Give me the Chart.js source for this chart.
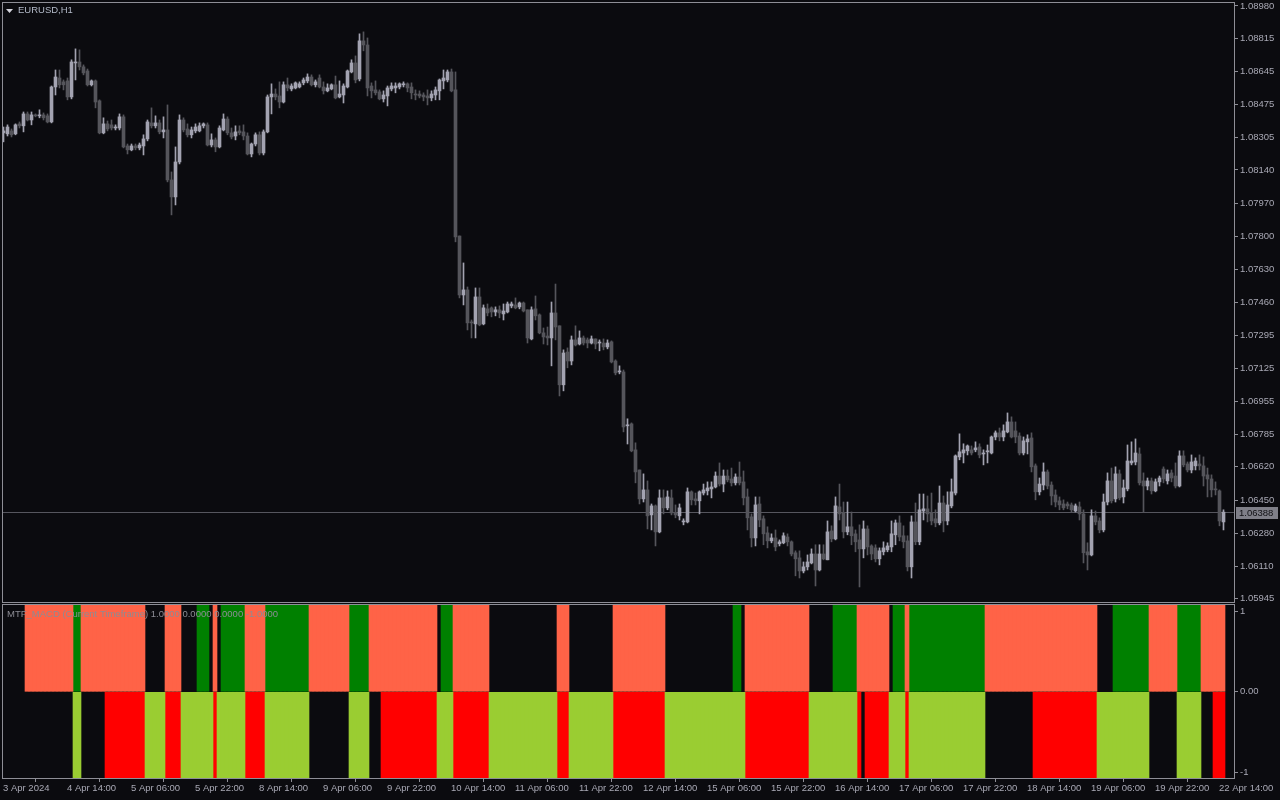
<!DOCTYPE html>
<html>
<head>
<meta charset="utf-8">
<title>EURUSD,H1</title>
<script src="https://cdn.jsdelivr.net/npm/chart.js@4/dist/chart.umd.min.js"></script>
<style>
  html, body { margin: 0; padding: 0; background: #0b0b0f; }
  #wrap { position: relative; width: 1280px; height: 800px; overflow: hidden; background: #0b0b0f; }
  #main { position: absolute; left: 0; top: 0; }
  #sub { position: absolute; left: 0; top: 603px; }
</style>
</head>
<body>
<div id="wrap">
  <canvas id="main" width="1280" height="603"></canvas>
  <canvas id="sub" width="1280" height="197"></canvas>
</div>
<script>
// EURUSD H1 candles, 3 Apr 22:00 -> 22 Apr 15:00 (one value per bar, 10 per row)
const open = [
  1.08330,1.08325,1.08340,1.08325,1.08376,1.08366,1.08427,1.08396,1.08422,1.08417,
  1.08422,1.08417,1.08386,1.08565,1.08611,1.08591,1.08596,1.08514,1.08688,1.08693,
  1.08668,1.08647,1.08576,1.08596,1.08494,1.08330,1.08376,1.08371,1.08355,1.08355,
  1.08412,1.08263,1.08243,1.08263,1.08253,1.08263,1.08299,1.08381,1.08366,1.08381,
  1.08335,1.08345,1.08089,1.08002,1.08181,1.08396,1.08350,1.08320,1.08340,1.08340,
  1.08366,1.08371,1.08268,1.08294,1.08258,1.08345,1.08401,1.08330,1.08314,1.08340,
  1.08335,1.08314,1.08222,1.08273,1.08320,1.08227,1.08335,1.08514,1.08529,1.08519,
  1.08488,1.08576,1.08555,1.08560,1.08565,1.08586,1.08596,1.08616,1.08576,1.08611,
  1.08565,1.08545,1.08555,1.08576,1.08514,1.08524,1.08565,1.08642,1.08688,1.08606,
  1.08801,1.08780,1.08570,1.08550,1.08540,1.08504,1.08519,1.08555,1.08560,1.08565,
  1.08576,1.08581,1.08565,1.08529,1.08529,1.08524,1.08519,1.08509,1.08524,1.08545,
  1.08596,1.08601,1.08642,1.08550,1.07802,1.07500,1.07526,1.07362,1.07352,1.07490,
  1.07352,1.07429,1.07434,1.07413,1.07424,1.07403,1.07413,1.07444,1.07449,1.07439,
  1.07459,1.07424,1.07275,1.07429,1.07398,1.07306,1.07290,1.07280,1.07408,1.07342,
  1.07040,1.07208,1.07162,1.07270,1.07249,1.07280,1.07270,1.07254,1.07275,1.07254,
  1.07254,1.07234,1.07260,1.07162,1.07106,1.07106,1.06830,1.06840,1.06707,1.06604,
  1.06456,1.06502,1.06374,1.06420,1.06287,1.06461,1.06410,1.06461,1.06384,1.06369,
  1.06338,1.06338,1.06492,1.06456,1.06446,1.06486,1.06497,1.06507,1.06517,1.06573,
  1.06532,1.06573,1.06558,1.06538,1.06568,1.06543,1.06466,1.06364,1.06256,1.06430,
  1.06354,1.06282,1.06241,1.06256,1.06226,1.06231,1.06261,1.06236,1.06180,1.06154,
  1.06087,1.06108,1.06128,1.06174,1.06092,1.06174,1.06144,1.06292,1.06251,1.06415,
  1.06384,1.06287,1.06313,1.06277,1.06246,1.06200,1.06302,1.06215,1.06205,1.06149,
  1.06185,1.06195,1.06210,1.06272,1.06333,1.06267,1.06241,1.06108,1.06338,1.06236,
  1.06394,1.06405,1.06384,1.06354,1.06333,1.06435,1.06343,1.06420,1.06486,1.06671,
  1.06691,1.06702,1.06707,1.06707,1.06722,1.06686,1.06697,1.06691,1.06773,1.06794,
  1.06773,1.06799,1.06850,1.06804,1.06778,1.06691,1.06748,1.06768,1.06625,1.06492,
  1.06527,1.06594,1.06527,1.06476,1.06446,1.06430,1.06430,1.06425,1.06394,1.06415,
  1.06379,1.06185,1.06169,1.06369,1.06343,1.06297,1.06440,1.06548,1.06456,1.06584,
  1.06466,1.06507,1.06640,1.06645,1.06686,1.06548,1.06522,1.06548,1.06497,1.06543,
  1.06609,1.06548,1.06589,1.06573,1.06522,1.06676,1.06635,1.06604,1.06625,1.06635,
  1.06625,1.06579,1.06558,1.06507,1.06497,1.06338
];
const high = [
  1.08360,1.08371,1.08350,1.08376,1.08386,1.08437,1.08437,1.08437,1.08427,1.08448,
  1.08432,1.08427,1.08570,1.08652,1.08652,1.08601,1.08611,1.08704,1.08760,1.08755,
  1.08678,1.08657,1.08601,1.08601,1.08499,1.08407,1.08391,1.08396,1.08371,1.08427,
  1.08422,1.08273,1.08273,1.08273,1.08278,1.08320,1.08396,1.08458,1.08417,1.08396,
  1.08412,1.08473,1.08130,1.08258,1.08422,1.08407,1.08376,1.08360,1.08376,1.08381,
  1.08381,1.08381,1.08325,1.08304,1.08366,1.08427,1.08412,1.08355,1.08366,1.08366,
  1.08371,1.08330,1.08278,1.08330,1.08335,1.08345,1.08524,1.08581,1.08555,1.08591,
  1.08591,1.08611,1.08581,1.08591,1.08591,1.08611,1.08632,1.08627,1.08601,1.08627,
  1.08591,1.08581,1.08581,1.08621,1.08596,1.08581,1.08652,1.08704,1.08724,1.08837,
  1.08847,1.08816,1.08586,1.08596,1.08550,1.08545,1.08570,1.08586,1.08586,1.08586,
  1.08591,1.08586,1.08586,1.08550,1.08545,1.08535,1.08550,1.08545,1.08565,1.08606,
  1.08652,1.08652,1.08657,1.08642,1.07802,1.07664,1.07541,1.07372,1.07536,1.07536,
  1.07449,1.07454,1.07439,1.07439,1.07444,1.07454,1.07464,1.07464,1.07485,1.07464,
  1.07464,1.07424,1.07439,1.07495,1.07403,1.07331,1.07336,1.07464,1.07556,1.07342,
  1.07219,1.07229,1.07290,1.07342,1.07316,1.07290,1.07280,1.07290,1.07275,1.07270,
  1.07275,1.07270,1.07265,1.07168,1.07137,1.07116,1.06866,1.06845,1.06743,1.06604,
  1.06584,1.06548,1.06430,1.06425,1.06502,1.06502,1.06497,1.06502,1.06425,1.06430,
  1.06354,1.06512,1.06497,1.06486,1.06497,1.06532,1.06543,1.06543,1.06594,1.06640,
  1.06604,1.06604,1.06614,1.06584,1.06645,1.06599,1.06507,1.06379,1.06466,1.06466,
  1.06369,1.06313,1.06277,1.06297,1.06246,1.06282,1.06277,1.06241,1.06190,1.06190,
  1.06133,1.06169,1.06200,1.06221,1.06221,1.06221,1.06343,1.06318,1.06466,1.06532,
  1.06440,1.06440,1.06389,1.06297,1.06323,1.06343,1.06318,1.06221,1.06221,1.06205,
  1.06236,1.06231,1.06343,1.06348,1.06369,1.06318,1.06267,1.06369,1.06435,1.06481,
  1.06481,1.06471,1.06486,1.06400,1.06522,1.06471,1.06492,1.06558,1.06681,1.06789,
  1.06738,1.06732,1.06727,1.06748,1.06738,1.06707,1.06732,1.06778,1.06804,1.06819,
  1.06835,1.06896,1.06876,1.06850,1.06794,1.06773,1.06784,1.06794,1.06635,1.06563,
  1.06640,1.06604,1.06543,1.06502,1.06466,1.06451,1.06440,1.06435,1.06430,1.06440,
  1.06400,1.06231,1.06400,1.06394,1.06359,1.06481,1.06589,1.06614,1.06620,1.06604,
  1.06553,1.06732,1.06748,1.06763,1.06717,1.06589,1.06563,1.06563,1.06558,1.06573,
  1.06620,1.06604,1.06604,1.06640,1.06702,1.06702,1.06645,1.06681,1.06666,1.06681,
  1.06671,1.06614,1.06579,1.06543,1.06502,1.06400
];
const low = [
  1.08284,1.08314,1.08309,1.08320,1.08355,1.08335,1.08391,1.08371,1.08412,1.08407,
  1.08396,1.08381,1.08381,1.08524,1.08560,1.08550,1.08499,1.08504,1.08601,1.08652,
  1.08627,1.08570,1.08570,1.08458,1.08325,1.08325,1.08340,1.08345,1.08345,1.08345,
  1.08253,1.08222,1.08238,1.08243,1.08243,1.08217,1.08289,1.08355,1.08355,1.08325,
  1.08304,1.08079,1.07910,1.07961,1.08171,1.08335,1.08309,1.08304,1.08330,1.08335,
  1.08355,1.08263,1.08258,1.08233,1.08253,1.08340,1.08320,1.08299,1.08294,1.08320,
  1.08294,1.08217,1.08207,1.08263,1.08217,1.08217,1.08330,1.08427,1.08499,1.08458,
  1.08483,1.08545,1.08545,1.08555,1.08560,1.08576,1.08586,1.08570,1.08565,1.08560,
  1.08529,1.08540,1.08550,1.08504,1.08509,1.08483,1.08560,1.08637,1.08586,1.08596,
  1.08750,1.08519,1.08509,1.08524,1.08499,1.08488,1.08468,1.08545,1.08535,1.08555,
  1.08565,1.08540,1.08504,1.08499,1.08509,1.08494,1.08473,1.08494,1.08499,1.08499,
  1.08555,1.08591,1.08540,1.07772,1.07485,1.07449,1.07321,1.07280,1.07280,1.07342,
  1.07347,1.07393,1.07388,1.07393,1.07383,1.07372,1.07408,1.07434,1.07429,1.07429,
  1.07413,1.07254,1.07270,1.07372,1.07301,1.07249,1.07244,1.07137,1.07270,1.06983,
  1.07009,1.07127,1.07142,1.07239,1.07244,1.07244,1.07229,1.07249,1.07224,1.07214,
  1.07219,1.07224,1.07152,1.07091,1.07096,1.06799,1.06737,1.06697,1.06538,1.06430,
  1.06440,1.06302,1.06297,1.06215,1.06282,1.06379,1.06400,1.06374,1.06359,1.06348,
  1.06323,1.06333,1.06425,1.06425,1.06379,1.06476,1.06476,1.06461,1.06512,1.06522,
  1.06492,1.06543,1.06522,1.06527,1.06527,1.06425,1.06297,1.06210,1.06215,1.06313,
  1.06221,1.06205,1.06231,1.06190,1.06215,1.06226,1.06215,1.06164,1.06062,1.06051,
  1.06077,1.06092,1.06123,1.06010,1.06087,1.06144,1.06144,1.06236,1.06246,1.06348,
  1.06256,1.06272,1.06221,1.06185,1.06005,1.06154,1.06169,1.06144,1.06133,1.06118,
  1.06169,1.06185,1.06185,1.06221,1.06241,1.06205,1.06087,1.06051,1.06221,1.06221,
  1.06348,1.06338,1.06323,1.06313,1.06323,1.06287,1.06323,1.06410,1.06476,1.06656,
  1.06640,1.06681,1.06681,1.06697,1.06666,1.06630,1.06640,1.06686,1.06758,1.06753,
  1.06753,1.06794,1.06768,1.06743,1.06681,1.06681,1.06686,1.06594,1.06451,1.06476,
  1.06502,1.06507,1.06425,1.06415,1.06400,1.06400,1.06405,1.06389,1.06389,1.06348,
  1.06128,1.06092,1.06164,1.06323,1.06282,1.06287,1.06425,1.06435,1.06440,1.06451,
  1.06435,1.06497,1.06630,1.06630,1.06527,1.06389,1.06502,1.06481,1.06492,1.06522,
  1.06538,1.06532,1.06543,1.06512,1.06517,1.06620,1.06594,1.06589,1.06604,1.06604,
  1.06522,1.06466,1.06466,1.06476,1.06318,1.06297
];
const close = [
  1.08340,1.08360,1.08320,1.08371,1.08366,1.08427,1.08396,1.08422,1.08417,1.08422,
  1.08407,1.08386,1.08565,1.08616,1.08576,1.08576,1.08514,1.08693,1.08693,1.08668,
  1.08637,1.08576,1.08596,1.08488,1.08330,1.08376,1.08350,1.08355,1.08360,1.08412,
  1.08258,1.08243,1.08263,1.08253,1.08268,1.08299,1.08386,1.08366,1.08381,1.08335,
  1.08345,1.08089,1.08002,1.08181,1.08396,1.08345,1.08320,1.08345,1.08360,1.08366,
  1.08376,1.08268,1.08294,1.08258,1.08355,1.08401,1.08330,1.08309,1.08335,1.08330,
  1.08314,1.08222,1.08273,1.08320,1.08227,1.08335,1.08514,1.08529,1.08514,1.08488,
  1.08576,1.08560,1.08570,1.08586,1.08581,1.08601,1.08616,1.08576,1.08591,1.08565,
  1.08545,1.08560,1.08576,1.08509,1.08529,1.08570,1.08647,1.08688,1.08601,1.08801,
  1.08780,1.08560,1.08545,1.08535,1.08504,1.08524,1.08560,1.08570,1.08570,1.08581,
  1.08581,1.08560,1.08535,1.08524,1.08519,1.08514,1.08509,1.08529,1.08550,1.08601,
  1.08611,1.08642,1.08545,1.07797,1.07500,1.07526,1.07357,1.07357,1.07490,1.07347,
  1.07434,1.07408,1.07413,1.07424,1.07408,1.07418,1.07454,1.07454,1.07434,1.07459,
  1.07418,1.07280,1.07424,1.07393,1.07306,1.07285,1.07280,1.07408,1.07336,1.07040,
  1.07203,1.07162,1.07270,1.07244,1.07280,1.07254,1.07254,1.07275,1.07249,1.07254,
  1.07234,1.07254,1.07157,1.07101,1.07106,1.06824,1.06835,1.06702,1.06594,1.06456,
  1.06502,1.06369,1.06420,1.06287,1.06461,1.06410,1.06466,1.06384,1.06374,1.06410,
  1.06343,1.06492,1.06451,1.06446,1.06492,1.06502,1.06512,1.06517,1.06573,1.06532,
  1.06573,1.06553,1.06538,1.06568,1.06538,1.06461,1.06359,1.06256,1.06425,1.06348,
  1.06277,1.06241,1.06256,1.06210,1.06236,1.06267,1.06236,1.06174,1.06149,1.06087,
  1.06108,1.06133,1.06174,1.06092,1.06174,1.06149,1.06287,1.06251,1.06420,1.06379,
  1.06287,1.06313,1.06267,1.06236,1.06200,1.06302,1.06210,1.06174,1.06149,1.06190,
  1.06205,1.06215,1.06277,1.06333,1.06261,1.06236,1.06108,1.06338,1.06236,1.06400,
  1.06405,1.06379,1.06343,1.06333,1.06435,1.06343,1.06425,1.06492,1.06676,1.06697,
  1.06707,1.06727,1.06691,1.06717,1.06681,1.06691,1.06697,1.06773,1.06794,1.06773,
  1.06804,1.06850,1.06773,1.06773,1.06691,1.06753,1.06763,1.06620,1.06492,1.06532,
  1.06594,1.06522,1.06471,1.06440,1.06425,1.06410,1.06420,1.06400,1.06420,1.06379,
  1.06180,1.06169,1.06369,1.06338,1.06297,1.06440,1.06548,1.06446,1.06584,1.06461,
  1.06512,1.06650,1.06650,1.06691,1.06538,1.06522,1.06548,1.06497,1.06543,1.06563,
  1.06558,1.06584,1.06563,1.06522,1.06676,1.06630,1.06604,1.06645,1.06650,1.06625,
  1.06573,1.06558,1.06502,1.06502,1.06343,1.06388
];

// price axis labels on the right
const priceTicks = [1.08980, 1.08815, 1.08645, 1.08475, 1.08305, 1.08140, 1.07970, 1.07800, 1.07630,
  1.07460, 1.07295, 1.07125, 1.06955, 1.06785, 1.06620, 1.06450, 1.06280, 1.06110, 1.05945];

// time axis: one label every 16 bars
const timeTickBars = [0, 16, 32, 48, 64, 80, 96, 112, 128, 144, 160, 176, 192, 208, 224, 240, 256, 272, 288, 304];
const timeLabels = ['3 Apr 2024', '4 Apr 14:00', '5 Apr 06:00', '5 Apr 22:00', '8 Apr 14:00', '9 Apr 06:00',
  '9 Apr 22:00', '10 Apr 14:00', '11 Apr 06:00', '11 Apr 22:00', '12 Apr 14:00', '15 Apr 06:00',
  '15 Apr 22:00', '16 Apr 14:00', '17 Apr 06:00', '17 Apr 22:00', '18 Apr 14:00', '19 Apr 06:00',
  '19 Apr 22:00', '22 Apr 14:00'];

// MTF_MACD state per bar, as runs [state, bars]: S salmon, G green, K none (upper half)
const upperRuns = [['K',6],['S',12],['G',2],['S',16],['K',5],['S',4],['K',4],['G',3],['K',1],['S',1],
  ['K',1],['G',6],['S',5],['G',11],['S',10],['G',5],['S',17],['K',1],['G',3],['S',9],['K',17],['S',3],
  ['K',11],['S',13],['K',17],['G',2],['K',1],['S',16],['K',6],['G',6],['S',8],['K',1],['G',3],['S',1],
  ['G',19],['S',28],['K',4],['G',9],['S',7],['G',6],['S',6]];
// lower half: L lime, R red, K none
const lowerRuns = [['K',18],['L',2],['K',6],['R',10],['L',5],['R',4],['L',8],['R',1],['L',7],['R',5],
  ['L',11],['K',10],['L',5],['K',3],['R',14],['L',4],['R',9],['L',17],['R',3],['L',11],['R',13],['L',20],
  ['R',16],['L',12],['R',1],['K',1],['R',6],['L',4],['R',1],['L',19],['K',12],['R',16],['L',13],['K',7],
  ['L',6],['K',3],['R',3]];
const upperLevel = 1.09;
const lowerLevel = -1.07;
const macdTicks = [1, 0, -1];

const frameColor = '#8e8e96';
const textColor = '#a9a9b5';
const axisFont = { family: 'Liberation Sans', size: 9.5 };
const bullColor = '#a3a3b1';
const bearColor = '#55555b';

function expandRuns(runs) {
  const out = [];
  runs.forEach(([s, n]) => { for (let i = 0; i < n; i++) out.push(s); });
  return out;
}

// keep Chart.js from reserving room for half of the edge labels
function noEdgePadding(s) {
  s.paddingTop = 0;
  s.paddingBottom = 0;
  s.paddingLeft = 0;
  s.paddingRight = 0;
}

const bars = open.map((_, i) => i);
const candleColor = bars.map(i => close[i] >= open[i] ? bullColor : bearColor);
const lastPrice = close[close.length - 1];

const mainOverlay = {
  id: 'mainOverlay',
  beforeDatasetsDraw(chart) {
    const { ctx, chartArea: a, scales: { y } } = chart;
    const py = Math.round(y.getPixelForValue(lastPrice)) + 0.5;
    ctx.save();
    ctx.strokeStyle = '#56565e';
    ctx.lineWidth = 1;
    ctx.beginPath();
    ctx.moveTo(a.left, py);
    ctx.lineTo(a.right, py);
    ctx.stroke();
    ctx.restore();
  },
  afterDraw(chart) {
    const { ctx, chartArea: a, scales: { y } } = chart;
    ctx.save();
    ctx.strokeStyle = frameColor;
    ctx.lineWidth = 1;
    ctx.strokeRect(a.left + 0.5, a.top + 0.5, a.right - a.left, a.bottom - a.top);
    // last price box on the axis
    const py = Math.round(y.getPixelForValue(lastPrice));
    ctx.fillStyle = '#7f7f88';
    ctx.fillRect(a.right + 2, py - 5, 42, 12);
    ctx.fillStyle = '#101014';
    ctx.font = '9.5px "Liberation Sans"';
    ctx.textBaseline = 'middle';
    ctx.textAlign = 'left';
    ctx.fillText(lastPrice.toFixed(5), a.right + 5, py + 1);
    // symbol title
    ctx.fillStyle = '#d4d4dc';
    ctx.beginPath();
    ctx.moveTo(6, 9);
    ctx.lineTo(13, 9);
    ctx.lineTo(9.5, 13);
    ctx.closePath();
    ctx.fill();
    ctx.fillStyle = '#b3bac8';
    ctx.fillText('EURUSD,H1', 18, 10.5);
    ctx.restore();
  }
};

new Chart(document.getElementById('main'), {
  type: 'bar',
  data: {
    datasets: [
      {
        label: 'wick',
        data: bars.map(i => ({ x: i, y: [low[i], high[i]] })),
        backgroundColor: candleColor,
        barThickness: 1,
        grouped: false,
        minBarLength: 1,
        order: 2
      },
      {
        label: 'body',
        data: bars.map(i => ({ x: i, y: [Math.min(open[i], close[i]), Math.max(open[i], close[i])] })),
        backgroundColor: candleColor,
        barThickness: 3,
        grouped: false,
        minBarLength: 1,
        order: 1
      }
    ]
  },
  options: {
    responsive: false,
    animation: false,
    layout: { padding: { left: 2, top: 2, right: 0, bottom: 1 } },
    plugins: { legend: { display: false }, tooltip: { enabled: false } },
    scales: {
      x: { type: 'linear', min: -0.375, max: 307.625, display: false, offset: false },
      y: {
        position: 'right',
        min: 1.05928,
        max: 1.09000,
        bounds: 'data',
        afterBuildTicks: s => { s.ticks = priceTicks.map(v => ({ value: v })); },
        afterFit: s => { s.width = 46; noEdgePadding(s); },
        ticks: {
          color: textColor, font: axisFont, padding: 2, crossAlign: 'near', autoSkip: false,
          callback: v => Number(v).toFixed(5)
        },
        grid: { drawOnChartArea: false, color: frameColor, tickLength: 4 },
        border: { display: false }
      }
    }
  },
  plugins: [mainOverlay]
});

// indicator window
const upperState = expandRuns(upperRuns);
const lowerState = expandRuns(lowerRuns);
const stateColors = { S: '#ff6347', G: '#008000', L: '#9acd32', R: '#ff0000' };

function stateDataset(states, code, from, to) {
  const pts = [];
  states.forEach((s, i) => { if (s === code) pts.push({ x: i, y: [from, to] }); });
  return { data: pts, backgroundColor: stateColors[code], barThickness: 4, grouped: false };
}

const subOverlay = {
  id: 'subOverlay',
  afterDatasetsDraw(chart) {
    const { ctx } = chart;
    ctx.save();
    ctx.fillStyle = '#8c8c94';
    ctx.font = '9.5px "Liberation Sans"';
    ctx.textBaseline = 'middle';
    ctx.textAlign = 'left';
    ctx.fillText('MTF_MACD (Current Timeframe) 1.0000 0.0000 0.0000 -1.0000', 7, 11);
    ctx.restore();
  },
  afterDraw(chart) {
    const { ctx, chartArea: a } = chart;
    ctx.save();
    ctx.strokeStyle = frameColor;
    ctx.lineWidth = 1;
    ctx.strokeRect(a.left + 0.5, a.top + 0.5, a.right - a.left, a.bottom - a.top);
    ctx.restore();
  }
};

new Chart(document.getElementById('sub'), {
  type: 'bar',
  data: {
    datasets: [
      stateDataset(upperState, 'S', 0, upperLevel),
      stateDataset(upperState, 'G', 0, upperLevel),
      stateDataset(lowerState, 'L', lowerLevel, 0),
      stateDataset(lowerState, 'R', lowerLevel, 0)
    ]
  },
  options: {
    responsive: false,
    animation: false,
    layout: { padding: { left: 2, top: 1, right: 0, bottom: 0 } },
    plugins: { legend: { display: false }, tooltip: { enabled: false } },
    scales: {
      x: {
        type: 'linear',
        min: -0.25,
        max: 307.75,
        offset: false,
        bounds: 'data',
        afterBuildTicks: s => { s.ticks = timeTickBars.map(v => ({ value: v })); },
        afterFit: s => { s.height = 22; noEdgePadding(s); },
        ticks: {
          color: textColor, font: axisFont, padding: 1, align: 'start', autoSkip: false, maxRotation: 0,
          callback: v => timeLabels[timeTickBars.indexOf(v)]
        },
        grid: { drawOnChartArea: false, color: frameColor, tickLength: 4 },
        border: { display: false }
      },
      y: {
        position: 'right',
        min: lowerLevel,
        max: upperLevel,
        bounds: 'data',
        afterBuildTicks: s => { s.ticks = macdTicks.map(v => ({ value: v })); },
        afterFit: s => { s.width = 46; noEdgePadding(s); },
        ticks: {
          color: textColor, font: axisFont, padding: 2, crossAlign: 'near', autoSkip: false,
          callback: v => (v === 0 ? '0.00' : String(v))
        },
        grid: { drawOnChartArea: false, color: frameColor, tickLength: 4 },
        border: { display: false }
      }
    }
  },
  plugins: [subOverlay]
});
</script>
</body>
</html>
